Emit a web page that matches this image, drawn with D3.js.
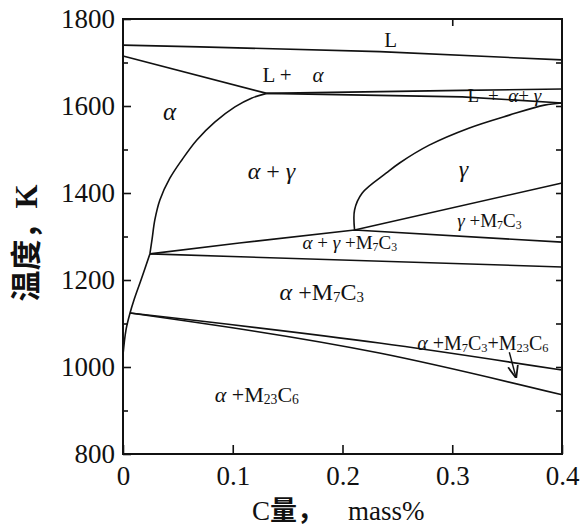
<!DOCTYPE html>
<html>
<head>
<meta charset="utf-8">
<script src="https://cdn.jsdelivr.net/npm/d3@7"></script>
<style>
  body { margin: 0; background: #fff; }
  text { font-family: "Liberation Serif", "Times New Roman", serif; fill: #111; }
  .cjk { font-family: "Noto Sans CJK SC", sans-serif; font-weight: bold; }
</style>
</head>
<body>
<svg id="chart" width="588" height="527"></svg>
<script>
// axis ticks
const xTicks = [0, 0.1, 0.2, 0.3, 0.4];
const yTicks = [800, 1000, 1200, 1400, 1600, 1800];
const yMinor = [900, 1100, 1300, 1500, 1700];
const rightTicks = [900, 1000, 1100, 1200, 1300, 1400, 1500, 1600, 1700];
const topTicks = [0.3];

// phase boundaries, [C mass%, T K]
const liquidus = [[0, 1740], [0.07, 1736], [0.234, 1725], [0.4, 1706]];
const alphaSolidus = [[0, 1715], [0.131, 1629]];
const periUpper = [[0.131, 1629], [0.309, 1636], [0.4, 1639]];
const periLower = [[0.131, 1629], [0.309, 1621], [0.4, 1607]];
const gammaBoundary = [[0.211, 1315], [0.211, 1361], [0.218, 1400], [0.240, 1446], [0.252, 1469],
  [0.279, 1510], [0.315, 1549], [0.352, 1579], [0.384, 1602], [0.4, 1607]];
const alphaGammaBoundary = [[0.0245, 1260], [0.0264, 1292], [0.029, 1338], [0.0336, 1384], [0.0427, 1434],
  [0.0536, 1476], [0.0673, 1522], [0.0836, 1563], [0.102, 1598], [0.117, 1618], [0.131, 1629]];
const alphaLower = [[0.0245, 1260], [0.0164, 1200], [0.010, 1154], [0.0064, 1124], [0.0027, 1085], [0, 1028]];
const eutUpper = [[0.0245, 1260], [0.106, 1285], [0.211, 1315], [0.4, 1287]];
const eutLower = [[0.0245, 1260], [0.4, 1230]];
const gammaM7Upper = [[0.211, 1315], [0.4, 1423]];
const m23Upper = [[0.0064, 1124], [0.2336, 1055], [0.4, 993]];
const m23Lower = [[0.0064, 1124], [0.2336, 1032], [0.4, 936]];
const arrow = [[0.352, 1034], [0.358, 977]];

// region labels, anchored at [C, T]
const labels = [
  { text: "L", c: 0.238, t: 1736 },
  { text: "L +    α", c: 0.127, t: 1655 },
  { text: "L  +  α+ γ", c: 0.314, t: 1609 },
  { text: "α", c: 0.0364, t: 1568 },
  { text: "α + γ", c: 0.1136, t: 1432 },
  { text: "γ", c: 0.306, t: 1437 },
  { text: "γ +M7C3", c: 0.3045, t: 1322 },
  { text: "α + γ +M7C3", c: 0.1636, t: 1271 },
  { text: "α +M7C3", c: 0.1427, t: 1154 },
  { text: "α +M7C3+M23C6", c: 0.268, t: 1039 },
  { text: "α +M23C6", c: 0.0836, t: 920 }
];
const labelSize = [21, 21, 19, 25, 24, 24, 19, 19, 24, 20, 22];

const svg = d3.select("#chart");
const margin = { top: 19, right: 26, bottom: 73, left: 123 };
const innerWidth = +svg.attr("width") - margin.left - margin.right;
const innerHeight = +svg.attr("height") - margin.top - margin.bottom;

const x = d3.scaleLinear().domain([0, 0.4]).range([0, innerWidth]);
const y = d3.scaleLinear().domain([800, 1800]).range([innerHeight, 0]);

const g = svg.append("g").attr("transform", `translate(${margin.left},${margin.top})`);

// frame
g.append("rect")
  .attr("x", x(0)).attr("y", y(1800))
  .attr("width", x(0.4) - x(0)).attr("height", y(800) - y(1800))
  .attr("fill", "none").attr("stroke", "#111").attr("stroke-width", 2);

function styleAxis(sel) {
  sel.select(".domain").remove();
  sel.selectAll("line").attr("stroke", "#111").attr("stroke-width", 1.6);
  sel.selectAll("text").attr("font-size", 27).attr("fill", "#111")
    .style("font-family", "'Liberation Serif', serif");
}

g.append("g")
  .call(d3.axisLeft(y).tickValues(yTicks).tickSizeInner(-8).tickSizeOuter(0).tickPadding(8).tickFormat(d3.format("d")))
  .call(styleAxis);
g.append("g")
  .call(d3.axisLeft(y).tickValues(yMinor).tickSizeInner(-5).tickSizeOuter(0).tickFormat(""))
  .call(styleAxis);
g.append("g")
  .attr("transform", `translate(${x(0.4)},0)`)
  .call(d3.axisRight(y).tickValues(rightTicks).tickSizeInner(-6).tickSizeOuter(0).tickFormat(""))
  .call(styleAxis);
g.append("g")
  .attr("transform", `translate(0,${innerHeight})`)
  .call(d3.axisBottom(x).tickValues(xTicks).tickSizeInner(-9).tickSizeOuter(0).tickPadding(12)
    .tickFormat(d => d === 0 ? "0" : d3.format(".1f")(d)))
  .call(styleAxis);
g.append("g")
  .call(d3.axisTop(x).tickValues(topTicks).tickSizeInner(-7).tickSizeOuter(0).tickFormat(""))
  .call(styleAxis);

// boundaries
const straight = d3.line().x(d => x(d[0])).y(d => y(d[1]));
const smooth = d3.line().x(d => x(d[0])).y(d => y(d[1])).curve(d3.curveCatmullRom.alpha(0.5));
const bent = d3.line().x(d => x(d[0])).y(d => y(d[1])).curve(d3.curveMonotoneX);

[liquidus, alphaSolidus, periUpper, periLower, eutUpper, eutLower, gammaM7Upper]
  .forEach(pts => {
    g.append("path").attr("d", straight(pts))
      .attr("fill", "none").attr("stroke", "#111").attr("stroke-width", 1.6);
  });
[m23Upper, m23Lower].forEach(pts => {
  g.append("path").attr("d", bent(pts))
    .attr("fill", "none").attr("stroke", "#111").attr("stroke-width", 1.6);
});
[gammaBoundary, alphaGammaBoundary, alphaLower].forEach(pts => {
  g.append("path").attr("d", smooth(pts))
    .attr("fill", "none").attr("stroke", "#111").attr("stroke-width", 1.6);
});

// arrow
svg.append("defs").append("marker")
  .attr("id", "head").attr("viewBox", "0 0 10 10")
  .attr("refX", 9).attr("refY", 5)
  .attr("markerWidth", 9).attr("markerHeight", 9)
  .attr("orient", "auto")
  .append("path").attr("d", "M0,1 L10,5 L0,9").attr("fill", "none")
  .attr("stroke", "#111").attr("stroke-width", 1.4);
g.append("path").attr("d", straight(arrow))
  .attr("fill", "none").attr("stroke", "#111").attr("stroke-width", 1.4)
  .attr("marker-end", "url(#head)");

// labels
labels.forEach((d, i) => {
  const size = labelSize[i];
  const t = g.append("text")
    .attr("x", x(d.c)).attr("y", y(d.t))
    .attr("font-size", size)
    .style("white-space", "pre");
  const parts = d.text.match(/[αγ]|\d+|[^αγ\d]+/g);
  let sub = false;
  parts.forEach(p => {
    if (/\d/.test(p)) {
      t.append("tspan").attr("font-size", size * 0.62).attr("dy", sub ? 0 : size * 0.1).text(p);
      sub = true;
    } else {
      const s = t.append("tspan").attr("dy", sub ? -size * 0.1 : 0).text(p);
      if (/[αγ]/.test(p)) s.attr("font-style", "italic");
      sub = false;
    }
  });
});

// axis titles
const yt = svg.append("text")
  .attr("transform", "translate(37,243) rotate(-90)")
  .attr("text-anchor", "middle")
  .attr("font-size", 31);
yt.append("tspan").attr("class", "cjk").text("温度，");
yt.append("tspan").attr("font-weight", "bold").text("K");

const xt = svg.append("text").attr("y", 520).attr("font-size", 27);
xt.append("tspan").attr("x", 252).text("C");
xt.append("tspan").attr("class", "cjk").text("量，");
xt.append("tspan").attr("x", 348).text("mass%");
</script>
</body>
</html>
